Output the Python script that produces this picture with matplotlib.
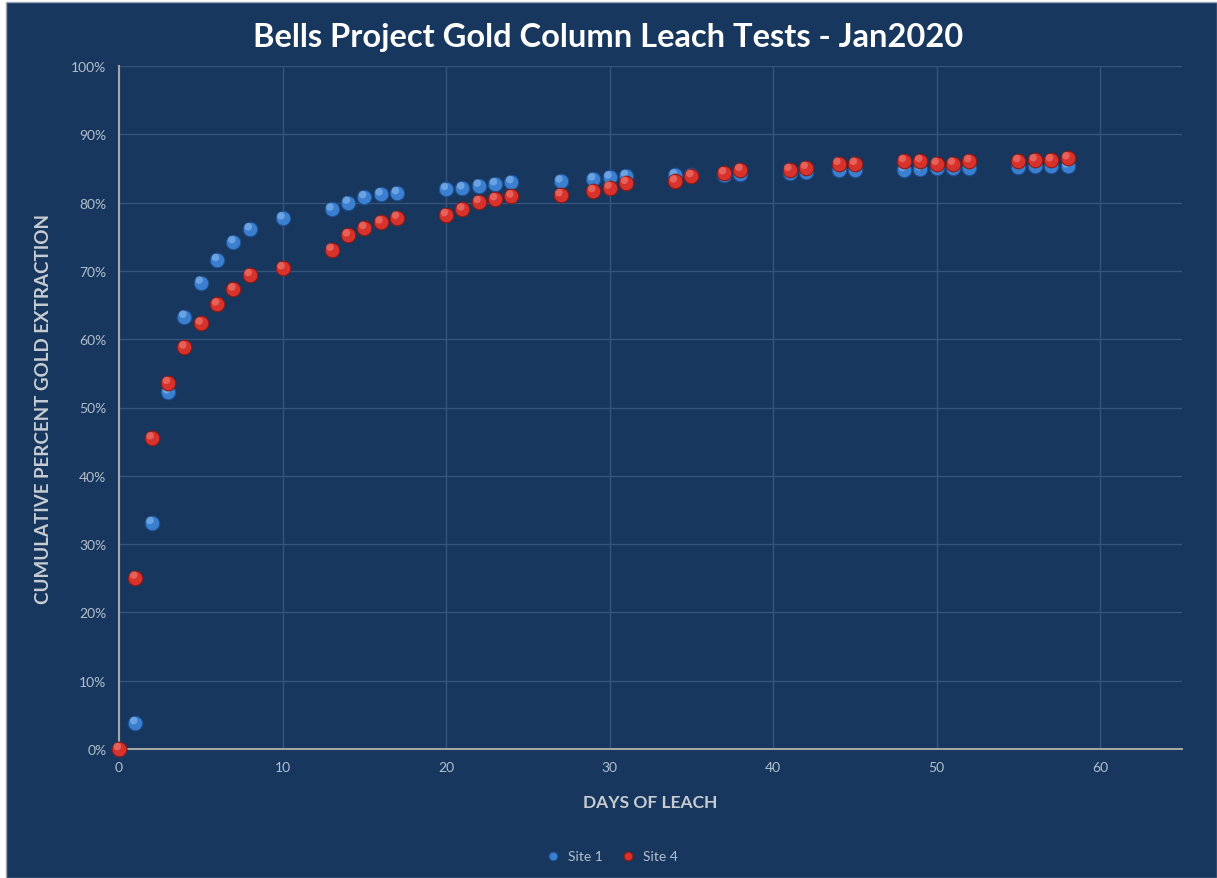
import numpy as np
import matplotlib
matplotlib.use("Agg")
import matplotlib.pyplot as plt
import matplotlib.transforms as mtransforms
from matplotlib.patches import Rectangle
from matplotlib.ticker import PercentFormatter

plt.rcParams['font.family'] = ['Lato', 'DejaVu Sans']

# leach data
days = [0, 1, 2, 3, 4, 5, 6, 7, 8, 10, 13, 14, 15, 16, 17, 20, 21, 22, 23, 24,
        27, 29, 30, 31, 34, 35, 37, 38, 41, 42, 44, 45, 48, 49, 50, 51, 52,
        55, 56, 57, 58]
site1 = [0, 3.8, 33.1, 52.2, 63.3, 68.3, 71.6, 74.2, 76.1, 77.7, 79.0, 80.0,
         80.8, 81.2, 81.4, 82.0, 82.1, 82.5, 82.7, 83.0, 83.1, 83.4, 83.7,
         83.9, 84.0, 84.0, 84.1, 84.2, 84.4, 84.5, 84.7, 84.7, 84.8, 84.9,
         85.0, 85.0, 85.1, 85.2, 85.3, 85.3, 85.3]
site4 = [0, 25.1, 45.5, 53.6, 58.8, 62.3, 65.1, 67.3, 69.4, 70.4, 73.1, 75.2,
         76.3, 77.1, 77.8, 78.2, 79.0, 80.1, 80.5, 80.9, 81.1, 81.7, 82.2,
         82.9, 83.1, 83.9, 84.3, 84.8, 84.8, 85.1, 85.7, 85.7, 86.1, 86.1,
         85.7, 85.7, 86.1, 86.1, 86.2, 86.2, 86.5]

series = [("Site 1", site1, "#3a7fd0", "#1f4f8f", "#9cc6f5"),
          ("Site 4", site4, "#d8322c", "#8c1a16", "#f59089")]

bg = "#17375e"
fig = plt.figure(figsize=(12.17, 8.79), dpi=100, facecolor="white")
fig.patches.append(Rectangle((6 / 1217, 0), 1 - 6 / 1217, 1 - 3 / 879,
                             transform=fig.transFigure, facecolor=bg,
                             edgecolor="#9aa7b8", linewidth=1, zorder=-5))

ax = fig.add_axes([119 / 1217, 1 - 750 / 879, (1182 - 119) / 1217, (750 - 67) / 879])
ax.set_facecolor(bg)
ax.set_xlim(0, 65)
ax.set_ylim(0, 100)
ax.set_xticks(np.arange(0, 61, 10))
ax.set_yticks(np.arange(0, 101, 10))
ax.yaxis.set_major_formatter(PercentFormatter(decimals=0))
ax.grid(True, color="#36557d", linewidth=1)
ax.set_axisbelow(True)
for s in ["top", "right"]:
    ax.spines[s].set_visible(False)
for s in ["left", "bottom"]:
    ax.spines[s].set_color("#a6a6a6")
    ax.spines[s].set_linewidth(1.5)
ax.tick_params(length=0, colors="#b4bfcc", labelsize=10, pad=9)

# glossy sphere look: base ball + soft highlight shifted up-left
hl = ax.transData + mtransforms.ScaledTranslation(-1.2 / 72, 1.8 / 72, fig.dpi_scale_trans)
for name, vals, c, edge, light in series:
    ax.scatter(days, vals, s=110, color=c, edgecolors=edge, linewidths=0.8,
               zorder=3, label=name, clip_on=False)
    ax.scatter(days, vals, s=30, color=light, edgecolors="none", alpha=0.5,
               zorder=3, transform=hl, clip_on=False)

ax.set_xlabel("DAYS OF LEACH", color="#c8ccd2", fontsize=12.5, fontweight="bold", labelpad=15)
ax.set_ylabel("CUMULATIVE PERCENT GOLD EXTRACTION", color="#c8ccd2", fontsize=13.5,
              fontweight="bold", labelpad=14)

fig.text(0.5, 1 - 38 / 879, "Bells Project Gold Column Leach Tests - Jan2020",
         ha="center", va="center", color="white", fontsize=23.5, fontweight="bold")

leg = ax.legend(loc="center", bbox_to_anchor=(0.5, 1 - 857 / 879),
                bbox_transform=fig.transFigure, ncol=2, frameon=False,
                fontsize=10, labelcolor="#b4bfcc", handletextpad=0.1,
                columnspacing=0.8, markerscale=0.6)

fig.savefig("out.png", dpi=100, facecolor="white")
